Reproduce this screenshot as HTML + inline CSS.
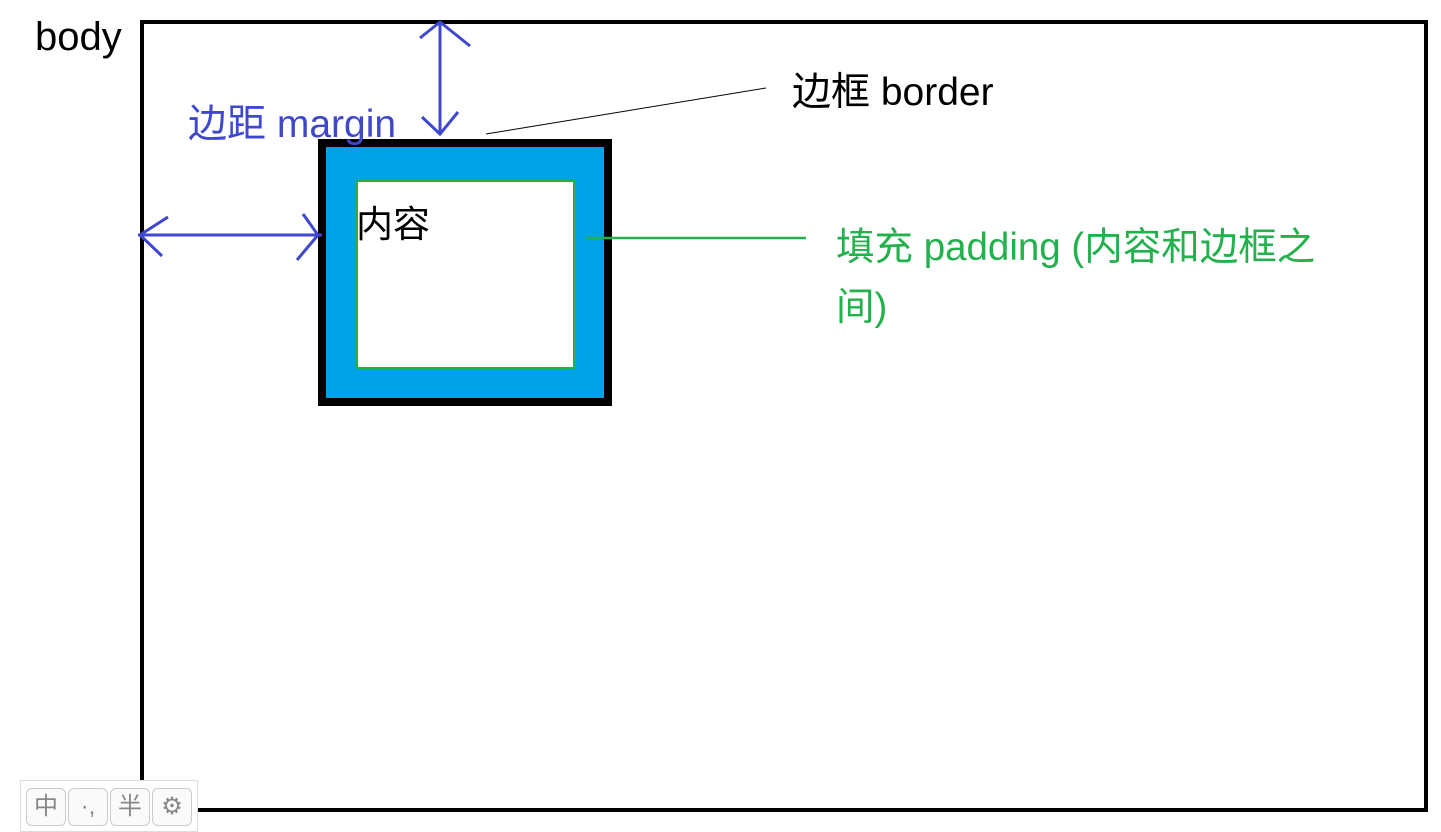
<!DOCTYPE html>
<html><head><meta charset="utf-8"><style>
body{margin:0;width:1441px;height:827px;background:#fff;overflow:hidden;position:relative;font-family:"Liberation Sans","Noto Sans CJK SC",sans-serif}
.t{position:absolute;white-space:nowrap}
.k{position:absolute;top:788px;width:38px;height:36px;border:1px solid #ccc;border-radius:6px;background:#fafafa;color:#888;font-size:24px;text-align:center;line-height:36px}
</style></head><body>
<svg width="1441" height="827" style="position:absolute;left:0;top:0">
<rect x="142" y="22" width="1284" height="788" fill="none" stroke="#000" stroke-width="4"/>
<rect x="322" y="143" width="286" height="259" fill="#00a2e6" stroke="#000" stroke-width="8"/>
<rect x="357" y="181" width="217" height="187" fill="#fff" stroke="#22b14c" stroke-width="2"/>
<g stroke="#3f48cc" stroke-width="3" fill="none">
<line x1="440" y1="22" x2="440" y2="134"/>
<polyline points="420,38 440,22 470,46"/>
<polyline points="422,117 440,134 458,112"/>
<line x1="138" y1="235" x2="322" y2="235"/>
<polyline points="168,217 140,235 162,256"/>
<polyline points="303,214 318,235 297,260"/>
</g>
<line x1="486" y1="134" x2="766" y2="88" stroke="#000" stroke-width="1"/>
<line x1="586" y1="238" x2="806" y2="238" stroke="#22b14c" stroke-width="2.5"/>
</svg>
<div class="t" style="left:35px;top:15px;font-size:40px">body</div>
<div class="t" style="left:188px;top:93px;font-size:39px;color:#3f48cc">边距 margin</div>
<div class="t" style="left:792px;top:61px;font-size:39px">边框 border</div>
<div class="t" style="left:356px;top:194px;font-size:37px">内容</div>
<div class="t" style="left:836px;top:218px;font-size:38.5px;color:#22b14c;line-height:60px">填充 padding (内容和边框之<br>间)</div>
<div style="position:absolute;left:20px;top:780px;width:176px;height:50px;border:1px solid #ddd;background:#fff"></div>
<div class="k" style="left:26px">中</div>
<div class="k" style="left:68px">·,</div>
<div class="k" style="left:110px">半</div>
<div class="k" style="left:152px">⚙</div>
</body></html>
